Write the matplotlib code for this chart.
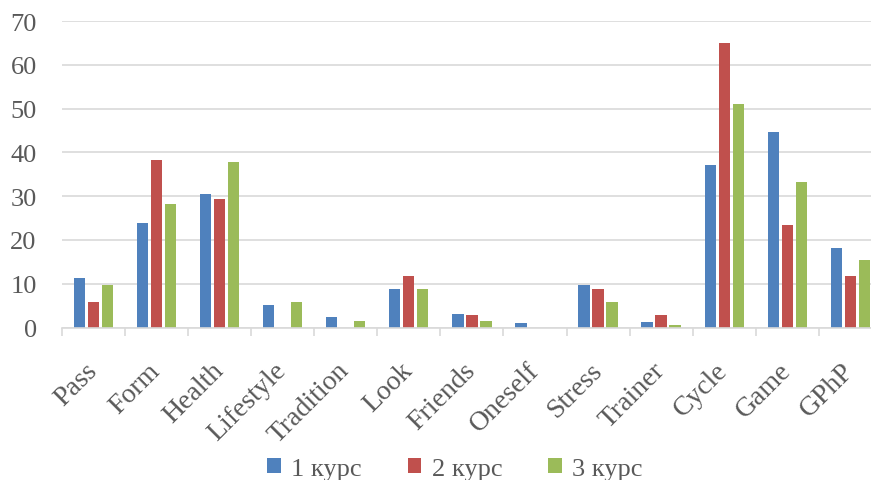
import matplotlib
matplotlib.use("Agg")
import matplotlib.pyplot as plt
import numpy as np

categories = ["Pass", "Form", "Health", "Lifestyle", "Tradition", "Look", "Friends",
              "Oneself", "Stress", "Trainer", "Cycle", "Game", "GPhP"]
course1 = [11.3, 23.9, 30.4, 5.1, 2.5, 8.7, 3.1, 1.0, 9.8, 1.3, 37.2, 44.7, 18.1]
course2 = [5.8, 38.3, 29.4, 0.0, 0.0, 11.7, 2.9, 0.0, 8.7, 2.9, 64.9, 23.5, 11.7]
course3 = [9.6, 28.1, 37.8, 5.8, 1.4, 8.8, 1.4, 0.0, 5.8, 0.6, 51.1, 33.3, 15.4]
series_labels = ["1 курс", "2 курс", "3 курс"]
y_ticks = [0, 10, 20, 30, 40, 50, 60, 70]

colors = ["#4F81BD", "#C0504D", "#9BBB59"]
text_color = "#595959"
grid_color = "#D9D9D9"

plt.rcParams["font.family"] = ["Liberation Serif", "DejaVu Serif"]

fig = plt.figure(figsize=(8.71, 4.81), dpi=100)
ax = fig.add_axes([61.7 / 871, 152.5 / 481, (882 - 61.7) / 871, (459 - 152.5) / 481])

x = np.arange(len(categories))
bar_w = 0.18
step = 0.222
for i, (vals, col, lab) in enumerate(zip([course1, course2, course3], colors, series_labels)):
    ax.bar(x + (i - 1) * step, vals, width=bar_w, color=col, label=lab, zorder=3)

ax.set_xlim(-0.5, len(categories) - 0.5)
ax.set_ylim(0, 70)
ax.set_yticks(y_ticks)
ax.yaxis.grid(True, color=grid_color, linewidth=1.2, zorder=0)
ax.set_axisbelow(True)

for side in ["top", "right", "left"]:
    ax.spines[side].set_visible(False)
ax.spines["bottom"].set_color(grid_color)
ax.spines["bottom"].set_linewidth(1.2)
ax.spines["bottom"].set_zorder(4)

ax.tick_params(axis="y", length=0, pad=18, labelsize=19, labelcolor=text_color)
ax.set_xticks(x)
ax.set_xticklabels(categories, rotation=45, ha="right", va="center",
                   rotation_mode="anchor", fontsize=20, color=text_color)
ax.tick_params(axis="x", which="major", length=0, pad=28)
ax.set_xticks(np.arange(-0.5, len(categories), 1.0), minor=True)
ax.tick_params(axis="x", which="minor", length=6, width=1.2, color=grid_color, direction="out")

leg = fig.legend(loc="center", bbox_to_anchor=(455 / 871, 11 / 481), ncol=3, frameon=False,
                 fontsize=19, handlelength=0.5, handleheight=0.5, handletextpad=0.4,
                 columnspacing=1.75, borderpad=0)
for t in leg.get_texts():
    t.set_color(text_color)

fig.savefig("out.png", dpi=100)
